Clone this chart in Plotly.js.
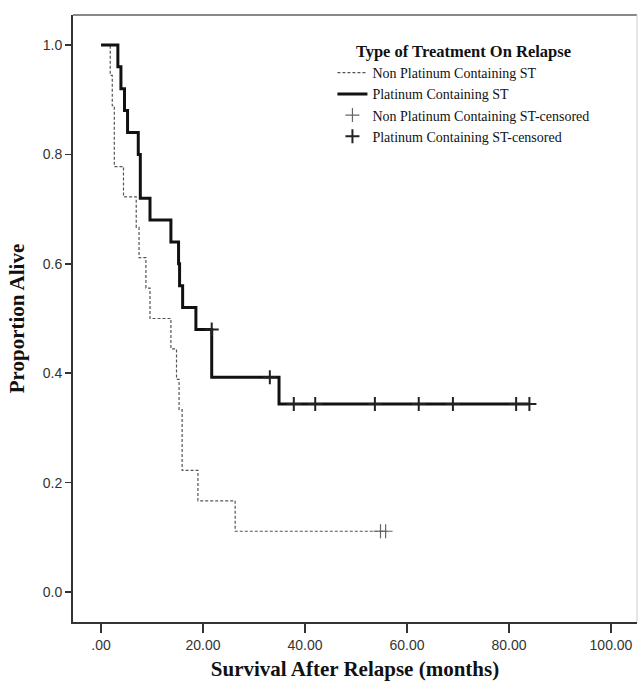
<!DOCTYPE html>
<html>
<head>
<meta charset="utf-8">
<script src="https://cdn.plot.ly/plotly-3.0.1.min.js"></script>
<style>html,body{margin:0;padding:0;background:#fff;}#chart{width:638px;height:681px;}</style>
</head>
<body>
<div id="chart"></div>
<script>
// Non platinum containing ST (n≈18)
const nonTime = [0, 1.8, 2.2, 2.6, 4.4, 6.9, 7.45, 8.8, 9.6, 13.7, 14.8, 15.3, 15.9, 19.0, 26.3, 55.8];
const nonSurv = [1, 0.9444, 0.8889, 0.7778, 0.7222, 0.6667, 0.6111, 0.5556, 0.5, 0.4444, 0.3889, 0.3333, 0.2222, 0.1667, 0.1111, 0.1111];
const nonCensTime = [54.8, 55.8];
const nonCensSurv = [0.1111, 0.1111];

// Platinum containing ST (n≈25)
const platTime = [0, 3.3, 3.9, 4.6, 5.2, 7.3, 7.7, 9.6, 13.7, 15.2, 15.4, 16.0, 18.6, 21.7, 34.9, 84.0];
const platSurv = [1, 0.96, 0.92, 0.88, 0.84, 0.80, 0.72, 0.68, 0.64, 0.60, 0.56, 0.52, 0.48, 0.3927, 0.3436, 0.3436];
const platCensTime = [21.7, 33.1, 37.8, 42.0, 53.7, 62.3, 69.0, 81.4, 84.0];
const platCensSurv = [0.48, 0.3927, 0.3436, 0.3436, 0.3436, 0.3436, 0.3436, 0.3436, 0.3436];

const xTickVals = [0, 20, 40, 60, 80, 100];
const xTickText = [".00", "20.00", "40.00", "60.00", "80.00", "100.00"];
const seriesNames = ["Non Platinum Containing ST", "Platinum Containing ST",
  "Non Platinum Containing ST-censored", "Platinum Containing ST-censored"];

const serif = 'Liberation Serif, Times New Roman, serif';
const sans = 'Liberation Sans, Arial, sans-serif';

const traces = [
  {x: nonTime, y: nonSurv, name: seriesNames[0], type: 'scatter', mode: 'lines',
   line: {shape: 'hv', color: '#555', width: 1.2, dash: '3px,2px'}},
  {x: platTime, y: platSurv, name: seriesNames[1], type: 'scatter', mode: 'lines',
   line: {shape: 'hv', color: '#111', width: 3}},
  {x: nonCensTime, y: nonCensSurv, name: seriesNames[2], type: 'scatter', mode: 'markers',
   marker: {symbol: 'cross-thin', size: 10, color: '#666', line: {color: '#666', width: 1.2}}},
  {x: platCensTime, y: platCensSurv, name: seriesNames[3], type: 'scatter', mode: 'markers',
   marker: {symbol: 'cross-thin', size: 10, color: '#222', line: {color: '#222', width: 2}}}
];

const layout = {
  width: 638, height: 681,
  margin: {l: 73, r: 1, t: 15, b: 59},
  paper_bgcolor: '#fff', plot_bgcolor: '#fff',
  showlegend: true,
  legend: {
    x: 0.46, y: 0.966, xanchor: 'left', yanchor: 'top',
    bgcolor: 'rgba(0,0,0,0)', borderwidth: 0,
    font: {family: serif, size: 14, color: '#111'},
    title: {text: '<b>Type of Treatment On Relapse</b>', side: 'top center',
            font: {family: serif, size: 16.5, color: '#111'}},
    traceorder: 'normal', itemwidth: 30
  },
  xaxis: {
    range: [-5.5, 105.1], tickvals: xTickVals, ticktext: xTickText,
    showgrid: false, zeroline: false, showline: true, linecolor: '#333', linewidth: 2,
    ticks: 'outside', ticklen: 9, tickwidth: 1.5, tickcolor: '#333',
    tickfont: {family: sans, size: 14, color: '#333'},
    title: {text: '<b>Survival After Relapse (months)</b>', standoff: 11,
            font: {family: serif, size: 21, color: '#111'}}
  },
  yaxis: {
    range: [-0.0548, 1.0548], dtick: 0.2, tick0: 0, tickformat: '.1f',
    showgrid: false, zeroline: false, showline: true, linecolor: '#333', linewidth: 2,
    ticks: 'outside', ticklen: 6, tickwidth: 1.5, tickcolor: '#333',
    tickfont: {family: sans, size: 14, color: '#333'},
    title: {text: '<b>Proportion Alive</b>', standoff: 12,
            font: {family: serif, size: 21, color: '#111'}}
  },
  shapes: [
    {type: 'line', xref: 'paper', yref: 'paper', x0: 0, x1: 1, y0: 1, y1: 1,
     line: {color: '#888', width: 2}},
    {type: 'line', xref: 'paper', yref: 'paper', x0: 1, x1: 1, y0: 0, y1: 1,
     line: {color: '#ccc', width: 1}}
  ]
};

Plotly.newPlot('chart', traces, layout, {displayModeBar: false, staticPlot: true});
</script>
</body>
</html>
